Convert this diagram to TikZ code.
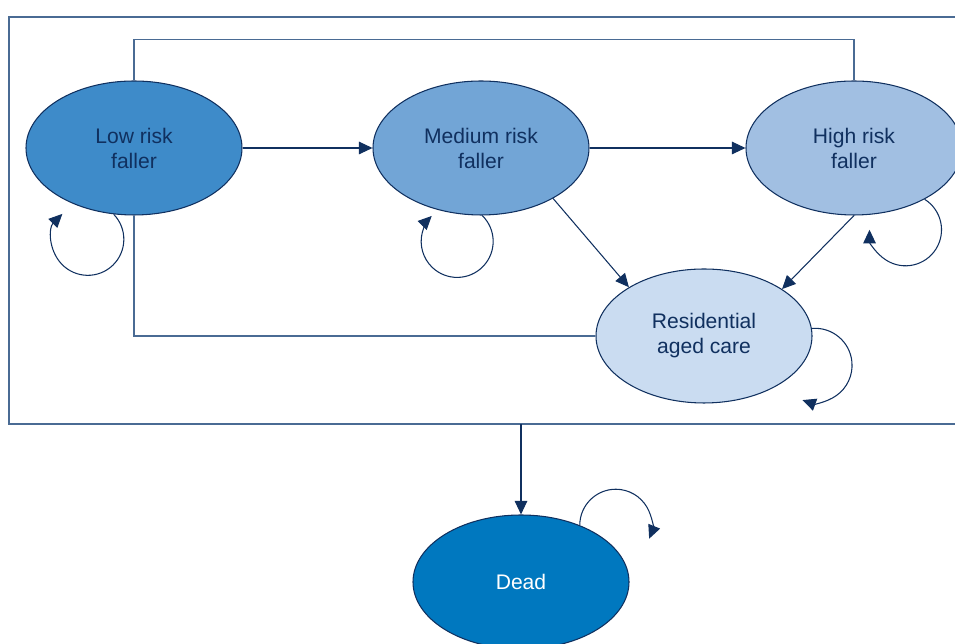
\documentclass[tikz,border=0pt]{standalone}
\usepackage{fontspec}
\setmainfont{Liberation Sans}
\usepackage{xcolor}
\usetikzlibrary{shapes.geometric, arrows.meta, positioning}

\definecolor{navy}{HTML}{10305F}
\definecolor{linkblue}{HTML}{4A6B94}
\definecolor{lowfill}{HTML}{3E8BC9}
\definecolor{medfill}{HTML}{72A5D6}
\definecolor{highfill}{HTML}{A1BFE2}
\definecolor{resfill}{HTML}{CADCF1}
\definecolor{deadfill}{HTML}{0078BF}

\begin{document}
\begin{tikzpicture}[
    state/.style={ellipse, draw=navy, line width=0.6pt, inner sep=0pt,
                  minimum width=4.32cm, minimum height=2.68cm, align=center,
                  text=navy, font=\fontsize{12}{14.2}\selectfont},
    link/.style={draw=linkblue, line width=0.7pt},
    arrow/.style={-{Triangle[length=2.7mm, width=2.5mm]}, draw=navy, line width=0.6pt},
    selfloop/.style={arrow}]
  \useasboundingbox (0,0) rectangle (19.1,12.88);

  % outer frame (runs off the right edge)
  \draw[link] (0.18,4.40) rectangle (19.8,12.54);

  \node[state, fill=lowfill] (low) at (2.68,9.92) {Low risk\\faller};
  \node[state, fill=medfill] (med) at (9.62,9.92) {Medium risk\\faller};
  \node[state, fill=highfill] (high) at (17.08,9.92) {High risk\\faller};
  \node[state, fill=resfill] (res) at (14.08,6.16) {Residential\\aged care};
  \node[state, fill=deadfill, text=white] (dead) at (10.42,1.24) {Dead};
  \coordinate (framebot) at (10.42,4.40);

  % plain links
  \draw[link] (low.north) -- ++(0,0.82) -| (high.north);
  \draw[link] (low.south) |- (res.west);

  % transitions
  \draw[arrow] (low) -- (med);
  \draw[arrow] (med) -- (high);
  \draw[arrow] (med.-35) -- (res.147);
  \draw[arrow] (high.south) -- (res.31);
  \draw[arrow] (framebot) -- (dead.north);

  % self loops
  \draw[selfloop] (low.-107) arc[start angle=44, end angle=-225, radius=0.72];
  \draw[selfloop] (med.-89) arc[start angle=46, end angle=-225, radius=0.72];
  \draw[selfloop] (high.-36) arc[start angle=58, end angle=-180, radius=0.72];
  \draw[selfloop] (res.4) arc[start angle=95, end angle=-110, radius=0.74];
  \draw[selfloop] (dead.44) arc[start angle=180, end angle=-22, radius=0.72];
\end{tikzpicture}
\end{document}
